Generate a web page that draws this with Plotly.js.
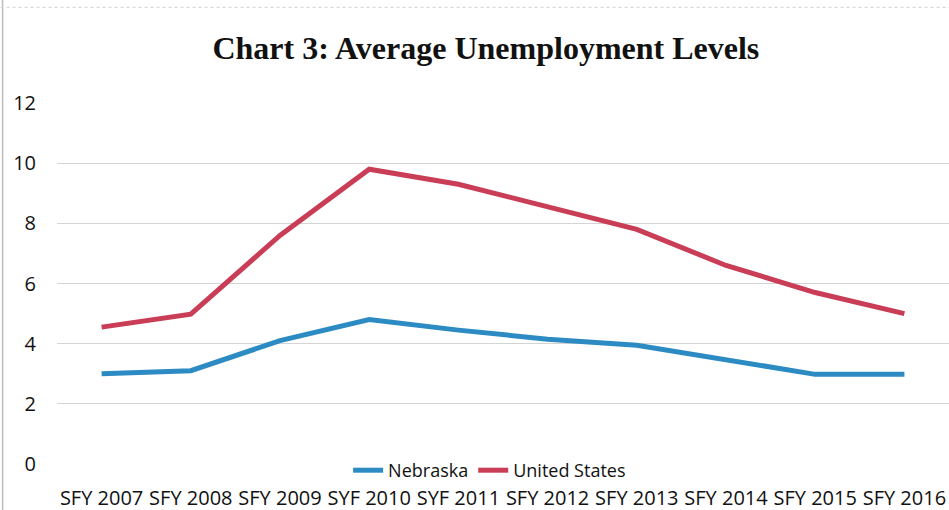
<!DOCTYPE html>
<html>
<head>
<meta charset="utf-8">
<script src="https://cdn.plot.ly/plotly-3.0.1.min.js"></script>
<style>html,body{margin:0;padding:0;background:#fff;}#chart{width:949px;height:510px;}</style>
</head>
<body>
<div id="chart"></div>
<script>
const categories = ["SFY 2007","SFY 2008","SFY 2009","SYF 2010","SYF 2011","SFY 2012","SFY 2013","SFY 2014","SFY 2015","SFY 2016"];
const nebraska = [3.0, 3.1, 4.1, 4.8, 4.45, 4.15, 3.95, 3.45, 2.98, 2.98];
const unitedStates = [4.55, 4.98, 7.6, 9.8, 9.3, 8.55, 7.8, 6.6, 5.7, 5.0];
const yTicks = [0, 2, 4, 6, 8, 10, 12];

const font = "Open Sans, Noto Sans, sans-serif";
const traces = [
  {x: categories, y: nebraska, name: "Nebraska", type: "scatter", mode: "lines",
   line: {color: "#2C8BC3", width: 5}},
  {x: categories, y: unitedStates, name: "United States", type: "scatter", mode: "lines",
   line: {color: "#C93D56", width: 5}}
];
const layout = {
  width: 949, height: 510,
  margin: {l: 57, r: 0, t: 103, b: 46},
  paper_bgcolor: "#fff", plot_bgcolor: "#fff",
  title: {text: "<b>Chart 3: Average Unemployment Levels</b>",
          font: {family: "Liberation Serif, serif", size: 32, color: "#111"},
          x: 0.512, xanchor: "center", y: 0.906, yanchor: "middle"},
  xaxis: {type: "category", range: [-0.5, 9.5], showgrid: false, zeroline: false, showline: false,
          ticks: "outside", ticklen: 16, tickcolor: "rgba(0,0,0,0)",
          tickfont: {family: font, size: 20, color: "#111"}},
  yaxis: {range: [0, 12], tickvals: yTicks, showgrid: true, gridcolor: "#d4d4d4", gridwidth: 1,
          zeroline: false, showline: false, ticks: "outside", ticklen: 16, tickcolor: "rgba(0,0,0,0)",
          tickfont: {family: font, size: 20, color: "#111"}},
  showlegend: true,
  legend: {orientation: "h", x: 0.485, xanchor: "center", y: -0.018, yanchor: "middle",
           font: {family: font, size: 18, color: "#111"}, bgcolor: "rgba(0,0,0,0)",
           itemwidth: 30, tracegroupgap: 0},
  shapes: [
    {type: "line", xref: "paper", yref: "paper", x0: -0.061, x1: -0.061, y0: -0.2, y1: 1.4,
     line: {color: "#bdbdbd", width: 1.5}},
    {type: "line", xref: "paper", yref: "paper", x0: -0.07, x1: 1.0, y0: 1.265, y1: 1.265,
     line: {color: "#cfcfcf", width: 1, dash: "dot"}}
  ]
};
Plotly.newPlot("chart", traces, layout, {displayModeBar: false, staticPlot: true});
</script>
</body>
</html>
